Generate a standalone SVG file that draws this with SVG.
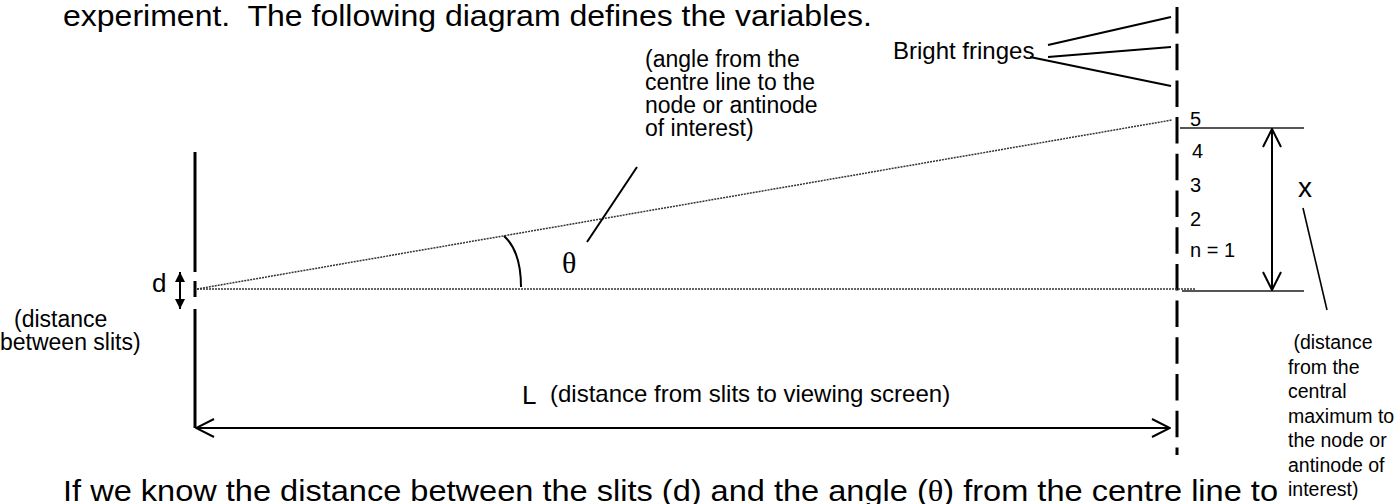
<svg xmlns="http://www.w3.org/2000/svg" width="1395" height="504" viewBox="0 0 1395 504">
<style>
 text{font-family:"Liberation Sans",Arial,Helvetica,sans-serif;fill:#000}
 .body{font-size:30px}
 .lbl{font-size:23px}
 .sm{font-size:19.5px}
 .num{font-size:20px}
 .serif{font-family:"Liberation Serif","Times New Roman",serif}
 .solid{stroke:#000;stroke-width:2;fill:none}
 .thin{stroke:#000;stroke-width:1.6;fill:none}
 .dot{stroke:#333;stroke-width:1.5;stroke-dasharray:2 1;fill:none}
 .gray{stroke:#555;stroke-width:2;fill:none}
 .wall{stroke:#000;stroke-width:3;fill:none}
</style>
<defs>
 <marker id="open" viewBox="0 0 20 20" refX="19" refY="10" markerWidth="20" markerHeight="20" markerUnits="userSpaceOnUse" orient="auto-start-reverse">
  <path d="M1,1 L19,10 L1,19" fill="none" stroke="#000" stroke-width="2"/>
 </marker>
 <marker id="fill" viewBox="0 0 10 10" refX="10" refY="5" markerWidth="10" markerHeight="10" markerUnits="userSpaceOnUse" orient="auto-start-reverse">
  <path d="M0,0 L10,5 L0,10 z" fill="#000"/>
 </marker>
</defs>

<g id="heading">
 <text class="body" x="63" y="26" xml:space="preserve" textLength="809" lengthAdjust="spacingAndGlyphs">experiment.  The following diagram defines the variables.</text>
</g>

<g id="slits">
 <line class="wall" x1="195" y1="152" x2="195" y2="272"/>
 <line class="wall" x1="195" y1="281" x2="195" y2="297"/>
 <line class="wall" x1="195" y1="309" x2="195" y2="428"/>
</g>

<g id="screen">
 <line class="wall" x1="1177" y1="7" x2="1177" y2="455" stroke-dasharray="26.5 10.2"/>
</g>

<g id="d-label">
 <text x="152" y="292" style="font-size:26px">d</text>
 <text class="lbl" x="14" y="327">(distance</text>
 <text class="lbl" x="0" y="350">between slits)</text>
</g>

<g id="theta-label">
 <text class="serif" x="562" y="273" style="font-size:30px">θ</text>
 <text class="lbl" x="645" y="67">(angle from the</text>
 <text class="lbl" x="645" y="90">centre line to the</text>
 <text class="lbl" x="645" y="113">node or antinode</text>
 <text class="lbl" x="645" y="136">of interest)</text>
</g>

<g id="fringes-label">
 <text x="893" y="59" style="font-size:24px">Bright fringes</text>
</g>

<g id="orders">
 <text class="num" x="1190" y="126">5</text>
 <text class="num" x="1192" y="158">4</text>
 <text class="num" x="1190" y="192">3</text>
 <text class="num" x="1190" y="226">2</text>
 <text class="num" x="1190" y="257">n = 1</text>
</g>

<g id="x-label">
 <text x="1298" y="197" style="font-size:28px">x</text>
 <text class="sm" x="1288" y="349" xml:space="preserve"> (distance</text>
 <text class="sm" x="1288" y="373.5">from the</text>
 <text class="sm" x="1288" y="398">central</text>
 <text class="sm" x="1288" y="422.5">maximum to</text>
 <text class="sm" x="1288" y="447">the node or</text>
 <text class="sm" x="1288" y="471.5">antinode of</text>
 <text class="sm" x="1288" y="496">interest)</text>
</g>

<g id="L-label">
 <text x="522" y="404" style="font-size:26px">L</text>
 <text x="550" y="402" style="font-size:24px">(distance from slits to viewing screen)</text>
</g>

<g id="footer">
 <text class="body" x="63" y="501" textLength="1215" lengthAdjust="spacingAndGlyphs">If we know the distance between the slits (d) and the angle (<tspan class="serif">θ</tspan>) from the centre line to</text>
</g>

<g id="connectors">
 <line class="dot" x1="197" y1="289" x2="1172" y2="120"/>
 <line class="dot" x1="197" y1="289" x2="1195" y2="289"/>
 <path class="solid" d="M504,236 C514,245 521,262 521,287"/>
 <line class="solid" x1="637" y1="167" x2="587" y2="242"/>
 <line class="solid" x1="1048" y1="45" x2="1171" y2="17"/>
 <line class="solid" x1="1048" y1="57" x2="1171" y2="47"/>
 <line class="solid" x1="1030" y1="57" x2="1171" y2="86"/>
 <line class="gray" x1="1180" y1="128" x2="1304" y2="128"/>
 <line class="gray" x1="1182" y1="291" x2="1304" y2="291"/>
 <line class="solid" x1="1272" y1="129" x2="1272" y2="290" marker-start="url(#open)" marker-end="url(#open)"/>
 <line class="thin" x1="1303" y1="208" x2="1327" y2="310"/>
 <line class="solid" x1="180" y1="272" x2="180" y2="309" marker-start="url(#fill)" marker-end="url(#fill)"/>
 <line class="solid" x1="196" y1="428" x2="1170" y2="428" marker-start="url(#open)" marker-end="url(#open)"/>
</g>
</svg>
